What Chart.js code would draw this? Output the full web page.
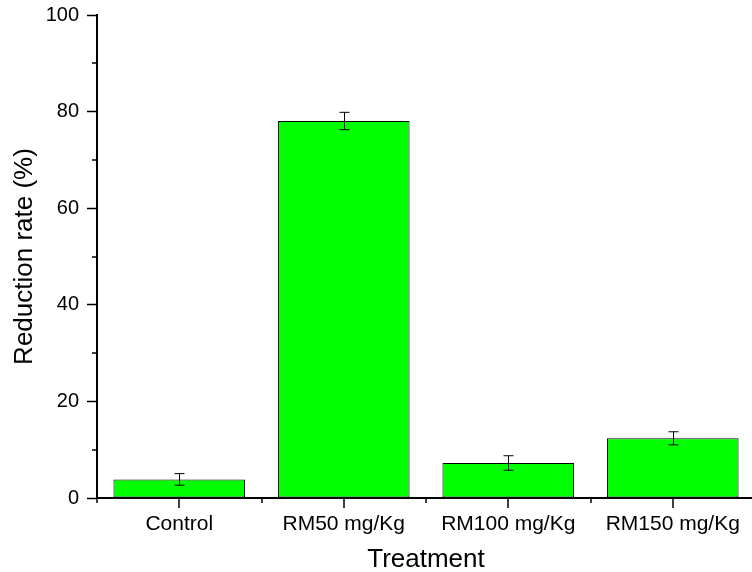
<!DOCTYPE html>
<html>
<head>
<meta charset="utf-8">
<script src="https://cdn.jsdelivr.net/npm/chart.js@4/dist/chart.umd.min.js"></script>
<style>
  html, body { margin: 0; padding: 0; overflow: hidden; background: #fff; }
  #wrap { width: 760px; height: 572px; }
</style>
</head>
<body>
<div id="wrap"><canvas id="myChart" width="760" height="572"></canvas></div>
<script>
var categories = ['Control', 'RM50 mg/Kg', 'RM100 mg/Kg', 'RM150 mg/Kg'];
var reduction = [3.85, 78.05, 7.25, 12.36];
var errors = [1.2, 1.8, 1.5, 1.35];
var yTicks = [0, 20, 40, 60, 80, 100];

var font = 'Arial, "Liberation Sans", sans-serif';

// error bars + minor/major tick marks drawn on top of the bars
var errorBars = {
    id: 'errorBars',
    afterDatasetsDraw: function (chart) {
        var ctx = chart.ctx;
        var y = chart.scales.y;
        var x = chart.scales.x;
        var meta = chart.getDatasetMeta(0);
        ctx.save();
        ctx.strokeStyle = '#000';
        ctx.lineWidth = 1;
        meta.data.forEach(function (bar, i) {
            var top = y.getPixelForValue(reduction[i] + errors[i]);
            var bot = y.getPixelForValue(reduction[i] - errors[i]);
            var cx = Math.round(bar.x) + 0.5;
            ctx.beginPath();
            ctx.moveTo(cx, top);
            ctx.lineTo(cx, bot);
            ctx.moveTo(cx - 5, top);
            ctx.lineTo(cx + 5, top);
            ctx.moveTo(cx - 5, bot);
            ctx.lineTo(cx + 5, bot);
            ctx.stroke();
        });

        ctx.lineWidth = 1.5;
        // y minor ticks
        for (var v = 10; v < 100; v += 20) {
            var py = Math.round(y.getPixelForValue(v));
            ctx.beginPath();
            ctx.moveTo(y.right - 5, py);
            ctx.lineTo(y.right, py);
            ctx.stroke();
        }
        // x major ticks at category centres, minor at the boundaries
        var bottom = chart.chartArea.bottom;
        var half = (x.getPixelForValue(1) - x.getPixelForValue(0)) / 2;
        for (var i = 0; i < categories.length; i++) {
            var px = Math.round(x.getPixelForValue(i));
            ctx.beginPath();
            ctx.moveTo(px, bottom);
            ctx.lineTo(px, bottom + 10);
            ctx.stroke();
            var bx = Math.round(x.getPixelForValue(i) - half);
            ctx.beginPath();
            ctx.moveTo(bx, bottom);
            ctx.lineTo(bx, bottom + 5);
            ctx.stroke();
        }
        ctx.restore();
    }
};

var ctx = document.getElementById('myChart');
var myChart = new Chart(ctx, {
    type: 'bar',
    data: {
        labels: categories,
        datasets: [{
            data: reduction,
            backgroundColor: '#00ff00',
            borderColor: '#000000',
            borderWidth: 1,
            borderSkipped: false,
            barPercentage: 0.8,
            categoryPercentage: 1.0
        }]
    },
    options: {
        responsive: false,
        animation: false,
        layout: {
            padding: { top: 15, right: 5, left: 0, bottom: 0 }
        },
        plugins: {
            legend: { display: false },
            tooltip: { enabled: false }
        },
        scales: {
            x: {
                grid: { display: false },
                border: { display: true, color: '#000', width: 2 },
                ticks: {
                    color: '#000',
                    padding: 6,
                    maxRotation: 0,
                    minRotation: 0,
                    font: { family: font, size: 21 }
                },
                title: {
                    display: true,
                    text: 'Treatment',
                    color: '#000',
                    padding: { top: 0, bottom: -3 },
                    font: { family: font, size: 26 }
                },
                afterFit: function (scale) {
                    scale.height = 74;
                    scale.paddingLeft = 0;
                    scale.paddingRight = 0;
                }
            },
            y: {
                min: 0,
                max: 100,
                afterBuildTicks: function (scale) {
                    scale.ticks = yTicks.map(function (v) { return { value: v }; });
                },
                grid: {
                    display: true,
                    drawOnChartArea: false,
                    drawTicks: true,
                    tickLength: 10,
                    tickWidth: 1.5,
                    tickColor: '#000'
                },
                border: { display: true, color: '#000', width: 2 },
                ticks: {
                    color: '#000',
                    padding: 8,
                    font: { family: font, size: 20 }
                },
                title: {
                    display: true,
                    text: 'Reduction rate (%)',
                    color: '#000',
                    padding: { top: 9, bottom: 0 },
                    font: { family: font, size: 26 }
                },
                afterFit: function (scale) {
                    scale.width = 97;
                    scale.paddingTop = 0;
                    scale.paddingBottom = 0;
                }
            }
        }
    },
    plugins: [errorBars]
});
</script>
</body>
</html>
